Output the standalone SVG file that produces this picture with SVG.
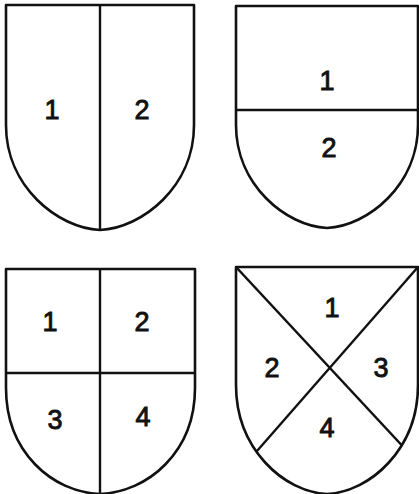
<svg xmlns="http://www.w3.org/2000/svg" width="419" height="494" viewBox="0 0 419 494">
<style>
.outline{fill:none;stroke:#111;stroke-width:2.6;stroke-linejoin:round}
.div{fill:none;stroke:#111;stroke-width:2.4}
.lbl{font-family:"Liberation Sans",Arial,sans-serif;font-size:27px;fill:#111;stroke:#111;stroke-width:0.9;text-anchor:middle}
</style>
<defs>
<path id="s1" d="M6,5 H194 V125 C194,187 142,228 100,230 C58,228 6,187 6,125 Z"/>
<path id="s2" d="M236,6 H418 V125 C418,185 368,226 327,228 C286,226 236,185 236,125 Z"/>
<path id="s3" d="M6,269 H195 V388 C195,452 148,492 100,494 C52,492 6,452 6,388 Z"/>
<path id="s4" d="M236,267 H418 V385 C418,449 370,492 327,494 C284,492 236,449 236,385 Z"/>
<clipPath id="c1"><use href="#s1"/></clipPath>
<clipPath id="c2"><use href="#s2"/></clipPath>
<clipPath id="c3"><use href="#s3"/></clipPath>
<clipPath id="c4"><use href="#s4"/></clipPath>
</defs>
<rect width="419" height="494" fill="#fff"/>
<g id="shield-per-pale">
<line class="div" x1="100" y1="0" x2="100" y2="240" clip-path="url(#c1)"/>
<use href="#s1" class="outline"/>
<text class="lbl" x="52" y="119">1</text>
<text class="lbl" x="142" y="119">2</text>
</g>
<g id="shield-per-fess">
<line class="div" x1="230" y1="110" x2="419" y2="110" clip-path="url(#c2)"/>
<use href="#s2" class="outline"/>
<text class="lbl" x="327" y="90">1</text>
<text class="lbl" x="329" y="157">2</text>
</g>
<g id="shield-quarterly">
<g clip-path="url(#c3)">
<line class="div" x1="100" y1="260" x2="100" y2="494"/>
<line class="div" x1="0" y1="373" x2="200" y2="373"/>
</g>
<use href="#s3" class="outline"/>
<text class="lbl" x="50" y="331">1</text>
<text class="lbl" x="142" y="331">2</text>
<text class="lbl" x="55" y="429">3</text>
<text class="lbl" x="143" y="426">4</text>
</g>
<g id="shield-per-saltire">
<g clip-path="url(#c4)">
<line class="div" x1="236" y1="267" x2="420" y2="465"/>
<line class="div" x1="418" y1="267" x2="236" y2="475"/>
</g>
<use href="#s4" class="outline"/>
<text class="lbl" x="332" y="317">1</text>
<text class="lbl" x="272" y="377">2</text>
<text class="lbl" x="381" y="377">3</text>
<text class="lbl" x="327" y="437">4</text>
</g>
</svg>
